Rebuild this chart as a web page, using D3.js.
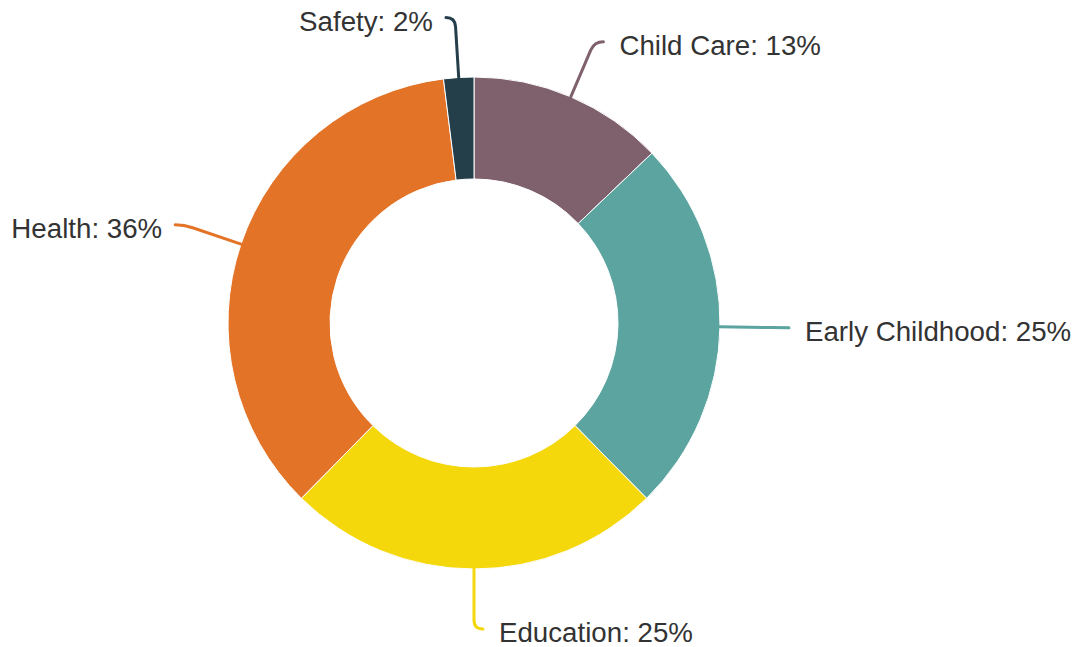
<!DOCTYPE html>
<html>
<head>
<meta charset="utf-8">
<script src="https://cdn.jsdelivr.net/npm/d3@7"></script>
<style>
  html, body { margin: 0; padding: 0; background: #ffffff; }
  svg { display: block; }
</style>
</head>
<body>
<svg id="chart" width="1080" height="647"></svg>
<script>
// Share of funding by program area (percent)
const categories = ["Child Care", "Early Childhood", "Education", "Health", "Safety"];
const values = [13, 25, 25, 36, 2];
const colors = ["#7f616e", "#5ba4a0", "#f4d80c", "#e37326", "#243e4a"];

const width = 1080, height = 647;
const cx = 474, cy = 323;
const outerR = 246, innerR = 144;
const labelR = 306;     // radius where the connector bends
const crook = 9;        // horizontal run of the connector
const gapRight = 16;    // gap between connector end and label text (right side)
const gapLeft = 13;     // same, left side

const svg = d3.select("#chart");
const g = svg.append("g").attr("transform", `translate(${cx},${cy})`);

const data = categories.map((c, i) => ({ name: c, value: values[i], color: colors[i] }));

const pie = d3.pie().value(d => d.value).sort(null);
const arc = d3.arc().innerRadius(innerR).outerRadius(outerR);
const arcs = pie(data);

g.selectAll("path.slice")
  .data(arcs)
  .join("path")
  .attr("class", "slice")
  .attr("d", arc)
  .attr("fill", d => d.data.color)
  .attr("stroke", "#ffffff")
  .attr("stroke-width", 1)
  .attr("stroke-linejoin", "round");

// Connector geometry for each slice
function geom(d) {
  const a = (d.startAngle + d.endAngle) / 2;
  const right = a <= Math.PI + 1e-6;
  const s = right ? 1 : -1;
  const edge = [outerR * Math.sin(a), -outerR * Math.cos(a)];
  const corner = [labelR * Math.sin(a), -labelR * Math.cos(a)];
  const end = [corner[0] + s * crook, corner[1]];
  // point a little way from the bend, toward the slice edge
  const dx = edge[0] - corner[0], dy = edge[1] - corner[1];
  const len = Math.hypot(dx, dy) || 1;
  const k = Math.min(9, len);
  const near = [corner[0] + dx / len * k, corner[1] + dy / len * k];
  return { a, right, s, edge, corner, end, near };
}

g.selectAll("path.connector")
  .data(arcs)
  .join("path")
  .attr("class", "connector")
  .attr("fill", "none")
  .attr("stroke", d => d.data.color)
  .attr("stroke-width", 3)
  .attr("stroke-linecap", "round")
  .attr("d", d => {
    const p = geom(d);
    return `M${p.end[0]},${p.end[1]}Q${p.corner[0]},${p.corner[1]} ${p.near[0]},${p.near[1]}L${p.edge[0]},${p.edge[1]}`;
  });

g.selectAll("text.label")
  .data(arcs)
  .join("text")
  .attr("class", "label")
  .attr("x", d => { const p = geom(d); return p.end[0] + p.s * (p.right ? gapRight : gapLeft); })
  .attr("y", d => geom(d).end[1] + 13)
  .attr("text-anchor", d => geom(d).right ? "start" : "end")
  .attr("font-family", "'Liberation Sans', Arial, sans-serif")
  .attr("font-size", 27.7)
  .attr("fill", "#333333")
  .text(d => `${d.data.name}: ${d.data.value}%`);
</script>
</body>
</html>
